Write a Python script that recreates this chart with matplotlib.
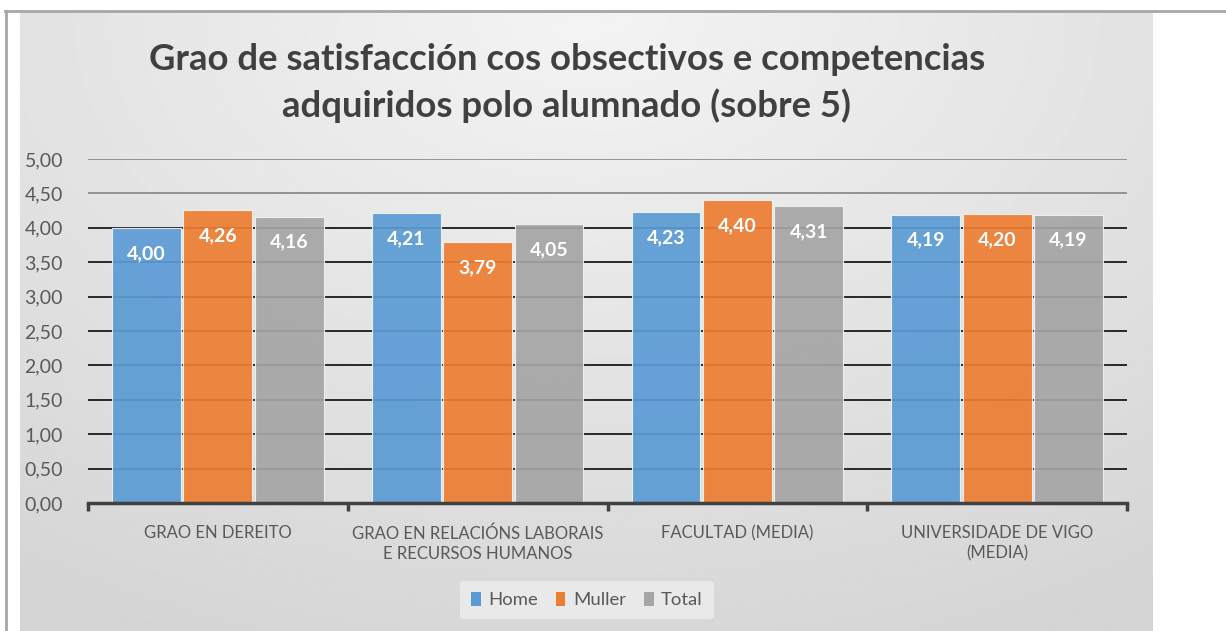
import numpy as np
import matplotlib
matplotlib.use("Agg")
import matplotlib.pyplot as plt
from matplotlib.patches import Patch
from matplotlib.lines import Line2D

plt.rcParams["font.family"] = ["Lato", "DejaVu Sans"]

_TEXT   = "#404040"
_TICK   = "#595959"
_BLUE   = "#5B9BD5"
_ORANGE = "#ED7D31"
_GRAY   = "#A5A5A5"

categories = ["GRAO EN DEREITO",
              "GRAO EN RELACIÓNS LABORAIS\nE RECURSOS HUMANOS",
              "FACULTAD (MEDIA)",
              "UNIVERSIDADE DE VIGO\n(MEDIA)"]
series = ["Home", "Muller", "Total"]
home   = [4.00, 4.21, 4.23, 4.19]
muller = [4.26, 3.79, 4.40, 4.20]
total  = [4.16, 4.05, 4.31, 4.19]
y_ticks = [0.0, 0.5, 1.0, 1.5, 2.0, 2.5, 3.0, 3.5, 4.0, 4.5, 5.0]
title = "Grao de satisfacción cos obsectivos e competencias\nadquiridos polo alumnado (sobre 5)"

W, H = 1226, 631
fig = plt.figure(figsize=(W / 100, H / 100), dpi=100, facecolor="white")

# chart area with soft radial gradient
bg = fig.add_axes([20 / W, 0, (1153 - 20) / W, (H - 12) / H])
yy, xx = np.mgrid[0:1:300j, 0:1:600j]
r = np.sqrt(((xx - 0.5) / 0.9) ** 2 + ((yy - 0.0) / 1.1) ** 2)
shade = 0.955 - 0.12 * np.clip(r, 0, 1)
bg.imshow(shade, cmap="gray", vmin=0, vmax=1, aspect="auto",
          extent=[0, 1, 0, 1], origin="upper", interpolation="bilinear")
bg.axis("off")

# outer frame lines
fig.add_artist(Line2D([5 / W, 1], [1 - 11 / H, 1 - 11 / H], color="#a6a6a6",
                      lw=2, transform=fig.transFigure))
fig.add_artist(Line2D([6 / W, 6 / W], [0, 1 - 11 / H], color="#a6a6a6",
                      lw=2, transform=fig.transFigure))

ax = fig.add_axes([88 / W, 1 - 503 / H, (1127 - 88) / W, (503 - 159) / H])
ax.set_facecolor("none")
ax.set_xlim(-0.5, len(categories) - 0.5)
ax.set_ylim(0, 5)

for t in y_ticks[1:]:
    ax.axhline(t, color="#8c8c8c" if t >= 4.5 else "#1a1a1a", lw=1.3, zorder=1)

x = np.arange(len(categories))
step, bw = 0.275, 0.265
for i, (vals, col) in enumerate(zip([home, muller, total], [_BLUE, _ORANGE, _GRAY])):
    xs = x + (i - 1) * step
    ax.bar(xs, vals, width=bw, color=col, alpha=0.92, edgecolor="#f2f2f2",
           linewidth=0.8, zorder=2, label=series[i])
    for xi, v in zip(xs, vals):
        ax.text(xi, v - 0.37, f"{v:.2f}".replace(".", ","), ha="center",
                va="center", color="white", fontsize=14, fontweight="bold",
                zorder=3)

for s in ("top", "right", "left"):
    ax.spines[s].set_visible(False)
ax.spines["bottom"].set_color("#404040")
ax.spines["bottom"].set_linewidth(2.5)
ax.spines["bottom"].set_zorder(4)

ax.set_yticks(y_ticks)
ax.set_yticklabels([f"{t:.2f}".replace(".", ",") for t in y_ticks])
ax.tick_params(axis="y", length=0, pad=18, labelsize=14, labelcolor=_TICK)

ax.set_xticks(x)
ax.set_xticklabels(categories, linespacing=1.3)
ax.tick_params(axis="x", which="major", length=0, pad=16, labelsize=12,
               labelcolor=_TICK)
ax.set_xticks(np.arange(len(categories) + 1) - 0.5, minor=True)
ax.tick_params(axis="x", which="minor", length=6, width=2.5, color="#404040")

fig.text(567 / W, 1 - 83 / H, title, ha="center", va="center", fontsize=26.3,
         fontweight="bold", color=_TEXT, linespacing=1.41)

handles = [Patch(facecolor=c, edgecolor="none") for c in (_BLUE, _ORANGE, _GRAY)]
leg = fig.legend(handles, series, loc="center", bbox_to_anchor=(587 / W, 1 - 600 / H),
                 ncol=3, frameon=True, fontsize=13.3, handlelength=0.5,
                 handleheight=0.8, handletextpad=0.4, columnspacing=1.0,
                 borderpad=0.6, labelcolor=_TICK)
leg.get_frame().set_facecolor("#e9e9e9")
leg.get_frame().set_edgecolor("none")
leg.get_frame().set_alpha(1)

fig.savefig("out.png", dpi=100, facecolor="white")
